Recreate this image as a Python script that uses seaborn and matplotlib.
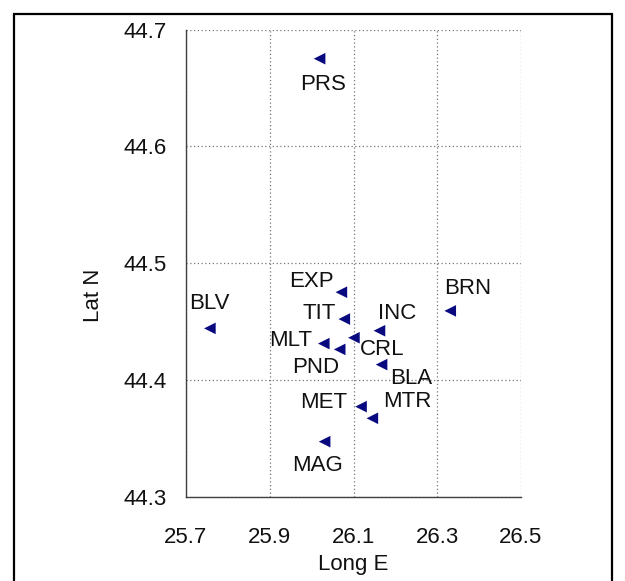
import matplotlib
matplotlib.use("Agg")
import matplotlib.pyplot as plt
from matplotlib.patches import Rectangle
import seaborn as sns
import pandas as pd

# Estaciones (longitud E, latitud N)
estaciones = ["PRS", "EXP", "TIT", "INC", "BRN", "BLV", "MLT", "CRL",
              "PND", "BLA", "MET", "MTR", "MAG"]
long_e = [26.019, 26.071, 26.078, 26.162, 26.331, 25.757, 26.029, 26.101,
          26.067, 26.167, 26.118, 26.145, 26.031]
lat_n = [44.675, 44.475, 44.452, 44.442, 44.459, 44.444, 44.431, 44.436,
         44.426, 44.413, 44.377, 44.367, 44.347]

x_ticks = [25.7, 25.9, 26.1, 26.3, 26.5]
y_ticks = [44.3, 44.4, 44.5, 44.6, 44.7]

# desplazamiento de etiquetas (pixeles)
offsets = {
    "PRS": (3, -26), "EXP": (-30, 11), "TIT": (-25, 6), "INC": (18, 17),
    "BRN": (17, 22), "BLV": (0, 25), "MLT": (-33, 3), "CRL": (28, -12),
    "PND": (-24, -18), "BLA": (30, -14), "MET": (-37, 4), "MTR": (35, 17),
    "MAG": (-7, -24),
}

df = pd.DataFrame({"estacion": estaciones, "long": long_e, "lat": lat_n})

sns.set_style("white")
plt.rcParams['font.family'] = ['Liberation Sans', 'DejaVu Sans']

fig = plt.figure(figsize=(6.25, 5.81), dpi=100)
ax = fig.add_axes([0.2976, 0.1454, 0.536, 0.8038])

sns.scatterplot(data=df, x="long", y="lat", marker="<", s=70,
                color="#0a0a80", edgecolor="none", ax=ax, zorder=3)

for _, r in df.iterrows():
    dx, dy = offsets[r["estacion"]]
    ax.annotate(r["estacion"], (r["long"], r["lat"]), xytext=(dx, dy),
                textcoords="offset pixels", ha="center", va="center",
                fontsize=16, color="#111111")

ax.set_xlim(25.7, 26.5)
ax.set_ylim(44.3, 44.7)
ax.set_xticks(x_ticks)
ax.set_yticks(y_ticks)
ax.set_xticklabels([f"{v:.1f}" for v in x_ticks])
ax.set_yticklabels([f"{v:.1f}" for v in y_ticks])
ax.grid(True, linestyle=(0, (1, 2)), color="#777777", linewidth=0.9)
ax.set_axisbelow(True)

for s in ["top", "right"]:
    ax.spines[s].set_visible(False)
for s in ["left", "bottom"]:
    ax.spines[s].set_color("#404040")
    ax.spines[s].set_linewidth(1)

ax.tick_params(axis="x", direction="out", length=5, width=0.8, color="#404040",
               pad=17, labelsize=16, labelcolor="#111111")
ax.tick_params(axis="y", direction="out", length=4.5, width=0.8, color="#404040",
               pad=9.5, labelsize=16, labelcolor="#111111")
ax.set_xlabel("Long E", fontsize=16, labelpad=4, color="#111111")
ax.set_ylabel("Lat N", fontsize=16, color="#111111")
ax.yaxis.set_label_coords(-0.245, 0.431)

# marco negro alrededor de la figura
fig.add_artist(Rectangle((14 / 625, -0.1), (612 - 14) / 625, 1.1 - 14 / 581,
                         transform=fig.transFigure, fill=False,
                         edgecolor="black", linewidth=1.6, clip_on=False))

fig.savefig("out.png", dpi=100)
